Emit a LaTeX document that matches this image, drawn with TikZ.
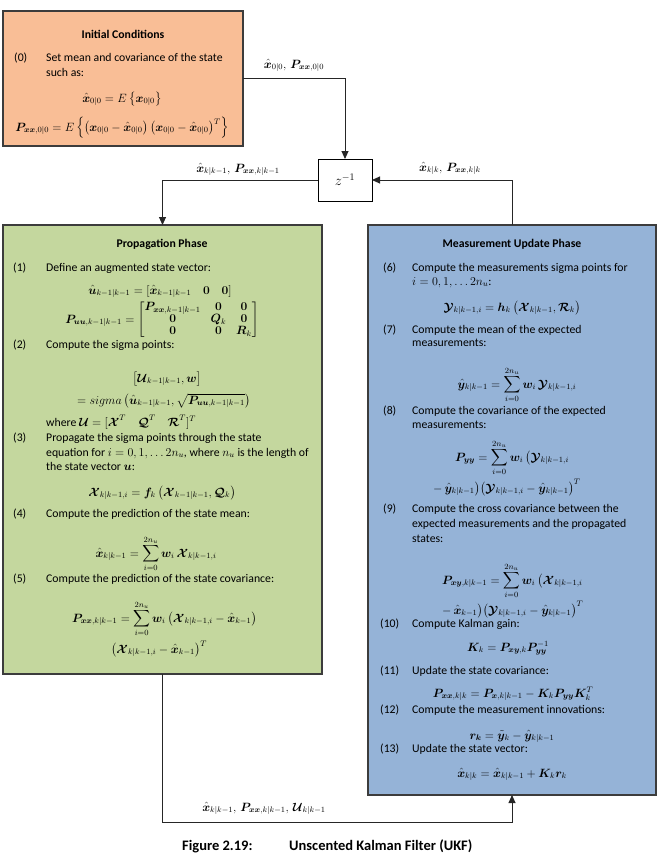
\documentclass[tikz,border=0pt]{standalone}
\usepackage{amsmath,amssymb}
\usepackage{bm}
\usepackage[no-math]{fontspec}
\setmainfont{Carlito}
\usetikzlibrary{arrows.meta}
\DeclareMathSizes{11.75}{11.75}{7.6}{6}
\definecolor{orangeF}{HTML}{F9BE96}
\definecolor{greenF}{HTML}{C4D79E}
\definecolor{blueF}{HTML}{95B3D7}
\definecolor{edgeC}{HTML}{3C3C3C}
\newcommand{\Vx}{\bm{x}}
\newcommand{\VP}{\bm{P}}
\newcommand{\Vu}{\bm{u}}
\newcommand{\Vw}{\bm{w}}
\newcommand{\VK}{\bm{K}}
\newcommand{\Vr}{\bm{r}}
\newcommand{\Vy}{\bm{y}}
\newcommand{\Vf}{\bm{f}}
\newcommand{\Vh}{\bm{h}}
\newcommand{\VQ}{\bm{Q}}
\newcommand{\VR}{\bm{R}}
\newcommand{\Vk}{\bm{k}}
\newcommand{\Vzero}{\bm{0}}
\newcommand{\SX}{\bm{\mathcal{X}}}
\newcommand{\SU}{\bm{\mathcal{U}}}
\newcommand{\SY}{\bm{\mathcal{Y}}}
\newcommand{\SQ}{\bm{\mathcal{Q}}}
\newcommand{\SR}{\bm{\mathcal{R}}}
\begin{document}
\begin{tikzpicture}[x=1pt,y=-1pt,font=\fontsize{11.75}{14}\selectfont,
  phase/.style={draw=edgeC, line width=1.4pt, inner sep=0pt, outer sep=0pt},
  zbox/.style={draw=black, line width=0.8pt, inner sep=0pt, outer sep=0pt, minimum width=54pt, minimum height=42pt},
  ttl/.style={font=\fontsize{11.75}{14}\bfseries\selectfont, anchor=base, inner sep=0pt},
  txt/.style={anchor=base west, inner sep=0pt},
  eq/.style={anchor=base, inner sep=0pt},
  eqw/.style={anchor=base west, inner sep=0pt},
  lbl/.style={anchor=base, inner sep=0pt},
  flow/.style={draw=black!85, line width=0.9pt, -{Triangle[width=7pt,length=8pt]}},
  captxt/.style={anchor=base west, inner sep=0pt, font=\fontsize{14.5}{16}\bfseries\selectfont}]
\useasboundingbox (0,0) rectangle (660,857);
% boxes
\node[phase, fill=orangeF, minimum width=240pt, minimum height=135pt] (init) at (123,78.5) {};
\node[phase, fill=greenF, minimum width=319pt, minimum height=449pt] (prop) at (162.5,449.5) {};
\node[phase, fill=blueF, minimum width=288pt, minimum height=570pt] (meas) at (512,510) {};
\node[zbox, fill=white, font=\fontsize{14}{16}\selectfont] (z) at (345,180) {$z^{-1}$};
% connectors
\coordinate (bot) at (162,822);
\draw[flow] (init.east) -| (z.north);
\draw[flow] (z.west) -| (prop.north);
\draw[flow] (meas.north) |- (z.east);
\draw[flow] (prop.south) -- (prop.south |- bot) -| (meas.south);
% connector labels
\node[lbl] (l1) at (294,68) {$\hat{\Vx}_{0|0},\, \VP_{\Vx\Vx,0|0}$};
\node[lbl] (l2) at (238,172) {$\hat{\Vx}_{k|k-1},\, \VP_{\Vx\Vx,k|k-1}$};
\node[lbl] (l3) at (450,171) {$\hat{\Vx}_{k|k},\, \VP_{\Vx\Vx,k|k}$};
\node[lbl] (l4) at (264,811) {$\hat{\Vx}_{k|k-1},\, \VP_{\Vx\Vx,k|k-1},\, \SU_{k|k-1}$};
% initial conditions
\node[ttl] (i0) at (123,38) {Initial Conditions};
\node[txt] (i1n) at (14,61) {(0)};
\node[txt] (i1) at (46,61) {Set mean and covariance of the state};
\node[txt] (i2) at (46,76) {such as:};
\node[eq] (i3) at (122,102) {$\hat{\Vx}_{0|0} = E\left\{\Vx_{0|0}\right\}$};
\node[eq] (i4) at (122,131) {$\VP_{\Vx\Vx,0|0} = E\left\{\left(\Vx_{0|0}-\hat{\Vx}_{0|0}\right)\left(\Vx_{0|0}-\hat{\Vx}_{0|0}\right)^{T}\right\}$};
% propagation phase
\node[ttl] (p0) at (162,247) {Propagation Phase};
\node[txt] (p1n) at (13,271) {(1)};
\node[txt] (p1) at (46,271) {Define an augmented state vector:};
\node[eq] (p1a) at (160,294) {$\hat{\Vu}_{k-1|k-1} = [\hat{\Vx}_{k-1|k-1}\quad \Vzero\quad \Vzero]$};
\node[eq] (p1b) at (162,323) {\renewcommand{\arraystretch}{0.82}$\VP_{\Vu\Vu,k-1|k-1} = \begin{bmatrix} \VP_{\Vx\Vx,k-1|k-1} & \Vzero & \Vzero\\ \Vzero & \VQ_k & \Vzero\\ \Vzero & \Vzero & \VR_k\end{bmatrix}$};
\node[txt] (p2n) at (13,348) {(2)};
\node[txt] (p2) at (46,348) {Compute the sigma points:};
\node[eq] (p2a) at (167,382) {$\left[\SU_{k-1|k-1}, \Vw\right]$};
\node[eqw] (p2b) at (77,404) {$= sigma\left(\hat{\Vu}_{k-1|k-1}, \sqrt{\VP_{\Vu\Vu,k-1|k-1}}\right)$};
\node[txt] (p2c) at (46,426) {where $\SU = [\SX^{T}\quad \SQ^{T}\quad \SR^{T}]^{T}$};
\node[txt] (p3n) at (13,441) {(3)};
\node[txt] (p3) at (46,441) {Propagate the sigma points through the state};
\node[txt] (p3b) at (46,456) {equation for $i = 0,1,\dots 2n_u$, where $n_u$ is the length of};
\node[txt] (p3c) at (46,470) {the state vector $\Vu$:};
\node[eq] (p3d) at (162,496) {$\SX_{k|k-1,i} = \Vf_k\left(\SX_{k-1|k-1}, \SQ_k\right)$};
\node[txt] (p4n) at (13,517) {(4)};
\node[txt] (p4) at (46,517) {Compute the prediction of the state mean:};
\node[eq] (p4a) at (156,557) {$\displaystyle\hat{\Vx}_{k|k-1} = \sum_{i=0}^{2n_u} \Vw_i\, \SX_{k|k-1,i}$};
\node[txt] (p5n) at (13,582) {(5)};
\node[txt] (p5) at (46,582) {Compute the prediction of the state covariance:};
\node[eqw] (p5a) at (72,622) {$\displaystyle\VP_{\Vx\Vx,k|k-1} = \sum_{i=0}^{2n_u} \Vw_i\left(\SX_{k|k-1,i}-\hat{\Vx}_{k-1}\right)$};
\node[eq] (p5b) at (159,653) {$\left(\SX_{k|k-1,i}-\hat{\Vx}_{k-1}\right)^{T}$};
% measurement update phase
\node[ttl] (m0) at (512,247) {Measurement Update Phase};
\node[txt] (m6n) at (383,271) {(6)};
\node[txt] (m6) at (412,271) {Compute the measurements sigma points for};
\node[txt] (m6b) at (412,285) {$i = 0,1,\dots 2n_u$:};
\node[eq] (m6c) at (512,311) {$\SY_{k|k-1,i} = \Vh_k\left(\SX_{k|k-1}, \SR_k\right)$};
\node[txt] (m7n) at (383,333) {(7)};
\node[txt] (m7) at (412,333) {Compute the mean of the expected};
\node[txt] (m7b) at (412,346) {measurements:};
\node[eq] (m7c) at (517,388) {$\displaystyle\hat{\Vy}_{k|k-1} = \sum_{i=0}^{2n_u} \Vw_i\, \SY_{k|k-1,i}$};
\node[txt] (m8n) at (383,414) {(8)};
\node[txt] (m8) at (412,414) {Compute the covariance of the expected};
\node[txt] (m8b) at (412,428) {measurements:};
\node[eqw] (m8c) at (455,461) {$\displaystyle\VP_{\Vy\Vy} = \sum_{i=0}^{2n_u} \Vw_i\,\bigl(\SY_{k|k-1,i}$};
\node[eqw] (m8d) at (433,492) {$-\,\hat{\Vy}_{k|k-1}\bigr)\bigl(\SY_{k|k-1,i}-\hat{\Vy}_{k|k-1}\bigr)^{T}$};
\node[txt] (m9n) at (383,512) {(9)};
\node[txt] (m9) at (412,512) {Compute the cross covariance between the};
\node[txt] (m9b) at (412,527) {expected measurements and the propagated};
\node[txt] (m9c) at (412,542) {states:};
\node[eqw] (m9d) at (442,584) {$\displaystyle\VP_{\Vx\Vy,k|k-1} = \sum_{i=0}^{2n_u} \Vw_i\,\bigl(\SX_{k|k-1,i}$};
\node[eqw] (m9e) at (442,614) {$-\,\hat{\Vx}_{k-1}\bigr)\bigl(\SY_{k|k-1,i}-\hat{\Vy}_{k|k-1}\bigr)^{T}$};
\node[txt] (m10n) at (380,627) {(10)};
\node[txt] (m10) at (412,627) {Compute Kalman gain:};
\node[eq] (m10a) at (508,651) {$\VK_k = \VP_{\Vx\Vy,k}\VP_{\Vy\Vy}^{-1}$};
\node[txt] (m11n) at (380,674) {(11)};
\node[txt] (m11) at (412,674) {Update the state covariance:};
\node[eq] (m11a) at (513,697) {$\VP_{\Vx\Vx,k|k} = \VP_{\Vx,k|k-1} - \VK_k\VP_{\Vy\Vy}\VK_k^{T}$};
\node[txt] (m12n) at (380,713) {(12)};
\node[txt] (m12) at (412,713) {Compute the measurement innovations:};
\node[eq] (m12a) at (512,739) {$\Vr_{\Vk} = \tilde{\Vy}_k - \hat{\Vy}_{k|k-1}$};
\node[txt] (m13n) at (380,752) {(13)};
\node[txt] (m13) at (412,752) {Update the state vector:};
\node[eq] (m13a) at (512,777) {$\hat{\Vx}_{k|k} = \hat{\Vx}_{k|k-1} + \VK_k\Vr_k$};
% caption
\node[captxt] (capA) at (182,850) {Figure 2.19:};
\node[captxt] (capB) at (289,850) {Unscented Kalman Filter (UKF)};
\end{tikzpicture}
\end{document}
